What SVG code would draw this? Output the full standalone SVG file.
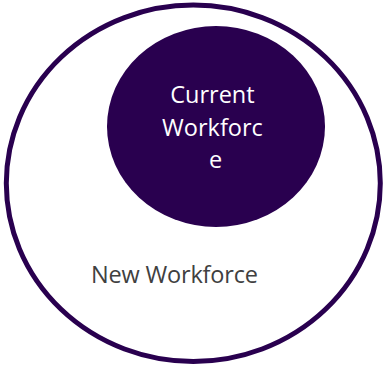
<svg xmlns="http://www.w3.org/2000/svg" width="383" height="367" viewBox="0 0 383 367">
<style>
.lbl{font-family:"Open Sans","Noto Sans","Liberation Sans",sans-serif;font-size:23.5px}
</style>
<rect width="383" height="367" fill="#fff"/>
<g id="new-workforce">
<ellipse cx="193.3" cy="183.3" rx="187" ry="178.2" fill="none" stroke="#29004f" stroke-width="5"/>
<text class="lbl" x="91" y="283" fill="#404040" textLength="167">New Workforce</text>
</g>
<g id="current-workforce">
<ellipse cx="216" cy="126.5" rx="109" ry="100.5" fill="#29004f"/>
<text class="lbl" fill="#ffffff" text-anchor="middle">
<tspan x="215.5" y="103.3">Current</tspan>
<tspan x="215.5" y="135.7">Workforc</tspan>
<tspan x="215.5" y="167.7">e</tspan>
</text>
</g>
<g id="connectors"/>
</svg>
